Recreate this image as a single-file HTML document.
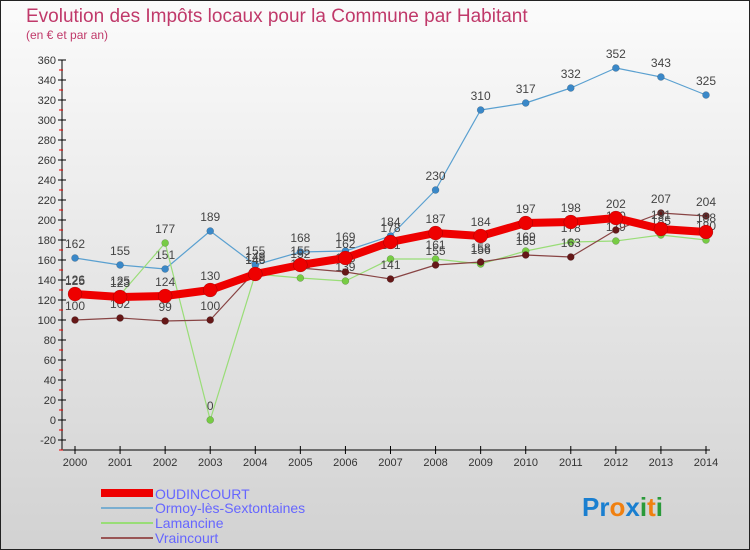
<!DOCTYPE html>
<html><head><meta charset="utf-8"><style>
body{margin:0;width:750px;height:550px;overflow:hidden;font-family:"Liberation Sans",sans-serif}
svg{display:block}
</style></head><body>
<svg id="chart" width="750" height="550">
<defs><linearGradient id="bg" x1="0" y1="0" x2="0" y2="1"><stop offset="0" stop-color="#fbfbfb"/><stop offset="1" stop-color="#d2d2d2"/></linearGradient></defs>
<rect x="0.5" y="0.5" width="749" height="549" fill="url(#bg)" stroke="#222"/>
<text x="26" y="22" font-size="19" fill="#c0396a">Evolution des Impôts locaux pour la Commune par Habitant</text>
<text x="26" y="39" font-size="12" fill="#c0396a">(en € et par an)</text>
<g id="axes"></g><g id="series"></g>
<g font-size="14" fill="#6666ff">
<rect x="101" y="489" width="52" height="8" fill="#e00"/>
<text x="155" y="499">OUDINCOURT</text>
<line x1="101" y1="508" x2="153" y2="508" stroke="#7aaed0" stroke-width="2"/>
<text x="155" y="513">Ormoy-lès-Sextontaines</text>
<line x1="101" y1="523" x2="153" y2="523" stroke="#99dd77" stroke-width="2"/>
<text x="155" y="528">Lamancine</text>
<line x1="101" y1="538" x2="153" y2="538" stroke="#995555" stroke-width="2"/>
<text x="155" y="543">Vraincourt</text>
</g>
<text x="582" y="516" font-size="26" font-weight="bold"><tspan fill="#1a7fd0">Pr</tspan><tspan fill="#f08010">o</tspan><tspan fill="#1a7fd0">x</tspan><tspan fill="#2a9a3a">i</tspan><tspan fill="#f08010">t</tspan><tspan fill="#2a9a3a">i</tspan></text>
</svg>
<script>
const years=[2000,2001,2002,2003,2004,2005,2006,2007,2008,2009,2010,2011,2012,2013,2014];
const oudincourt=[126,123,124,130,146,155,162,178,187,184,197,198,202,191,188];
const ormoy=[162,155,151,189,155,168,169,184,230,310,317,332,352,343,325];
const lamancine=[125,125,177,0,146,142,139,161,161,156,169,178,179,185,180];
const vraincourt=[100,102,99,100,149,152,148,141,155,158,165,163,190,207,204];
const yTicks=[-20,0,20,40,60,80,100,120,140,160,180,200,220,240,260,280,300,320,340,360];
const NS="http://www.w3.org/2000/svg";
const X=i=>75+i*(706-75)/(years.length-1);
const Y=v=>420-v*(360/360);
function mk(tag,attrs,parent){const e=document.createElementNS(NS,tag);for(const k in attrs)e.setAttribute(k,attrs[k]);parent.appendChild(e);return e;}
const ax=document.getElementById('axes');
let l=mk('line',{x1:62,y1:Y(360),x2:62,y2:450,stroke:'#000'},ax);


l=mk('line',{x1:62,y1:450,x2:710,y2:450,stroke:'#000'},ax);


yTicks.forEach(v=>{
  mk('line',{x1:58,y1:Y(v),x2:66,y2:Y(v),stroke:'#000'},ax);
  mk('line',{x1:59,y1:Y(v)+10,x2:63,y2:Y(v)+10,stroke:'#e00'},ax);
  const t=mk('text',{x:56,y:Y(v)+4,'text-anchor':'end','font-size':11,fill:'#333'},ax);
  t.textContent=v;
  
  
});
years.forEach((yr,i)=>{
  mk('line',{x1:X(i),y1:446,x2:X(i),y2:454,stroke:'#000'},ax);
  const t=mk('text',{x:X(i),y:466,'text-anchor':'middle','font-size':11,fill:'#333'},ax);
  t.textContent=yr;
  
  
});
const sg=document.getElementById('series');
function draw(name,vals,color,mcolor,w,r){
  const g=mk('g',{},sg);
  
  
  const p=mk('polyline',{points:vals.map((v,i)=>X(i)+','+Y(v)).join(' '),fill:'none',stroke:color,'stroke-width':w,'stroke-linejoin':'round'},g);
  
  
  vals.forEach((v,i)=>{
    const c=mk('circle',{cx:X(i),cy:Y(v),r:r,fill:mcolor,stroke:'rgba(0,0,0,0.3)','stroke-width':0.5},g);
    
    
    const t=mk('text',{x:X(i),y:Y(v)-10,'text-anchor':'middle','font-size':12,fill:'#444'},g);
    t.textContent=v;
    
    
  });
}
draw('ormoy',ormoy,'#5aa0d0','#3a88c8',1.2,3.5);
draw('lamancine',lamancine,'#99dd77','#77cc44',1.2,3.5);
draw('vraincourt',vraincourt,'#884444','#661818',1.2,3.5);
draw('oudincourt',oudincourt,'#ee0000','#ee0000',8,7);
</script>
</body></html>
